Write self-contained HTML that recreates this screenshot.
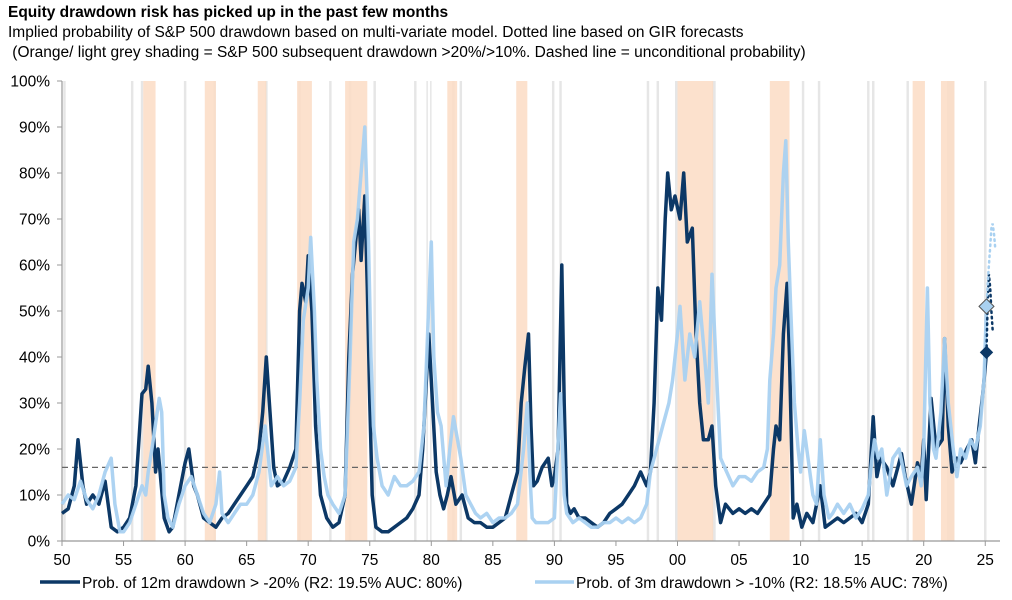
<!DOCTYPE html>
<html><head><meta charset="utf-8">
<style>
html,body{margin:0;padding:0;background:#fff;}
body{width:1012px;height:600px;overflow:hidden;font-family:"Liberation Sans",Arial,sans-serif;position:relative;}
.t{position:absolute;left:8px;white-space:nowrap;color:#000;}
</style></head><body>
<div class="t" style="top:4px;font-size:15.5px;font-weight:bold;">Equity drawdown risk has picked up in the past few months</div>
<div class="t" style="top:24px;font-size:15.5px;">Implied probability of S&amp;P 500 drawdown based on multi-variate model. Dotted line based on GIR forecasts</div>
<div class="t" style="top:44px;font-size:15.5px;">&nbsp;(Orange/ light grey shading = S&amp;P 500 subsequent drawdown &gt;20%/&gt;10%. Dashed line = unconditional probability)</div>
<svg id="chart" width="1012" height="600" style="position:absolute;left:0;top:0" xmlns="http://www.w3.org/2000/svg"></svg>
<script>
// Year offsets are years since 1900 (e.g. 74.6 = mid-1974)
const orangeBands = [[56.6,57.6],[61.6,62.5],[65.9,66.6],[69.1,70.3],[73.0,74.8],[81.3,82.1],[86.9,87.8],[100.0,102.9],[107.5,109.1],[119.1,120.1],[121.4,122.5]];
const greyBands = [[50.1,50.3],[55.6,55.8],[56.4,56.6],[59.9,60.1],[62.3,62.5],[66.5,66.7],[69.2,69.4],[71.7,71.9],[73.3,73.5],[75.3,75.5],[78.6,78.8],[79.6,79.7],[79.9,80.0],[81.7,81.9],[82.3,82.5],[89.8,90.0],[90.4,90.6],[97.5,97.7],[98.3,98.5],[99.8,100.0],[102.8,103.1],[110.1,110.3],[111.4,111.6],[115.4,115.6],[115.8,116.0],[118.6,118.8],[121.9,122.5],[124.9,125.1]];
const darkYears = [50,50.5,51,51.3,51.7,52,52.5,53,53.5,54,54.5,55,55.5,56,56.5,56.8,57,57.3,57.6,57.8,58.3,58.7,59,59.5,60,60.3,60.7,61,61.5,62,62.5,63,63.5,64,64.5,65,65.5,66,66.3,66.6,66.9,67.2,67.5,68,68.5,69,69.3,69.5,69.8,70,70.3,70.6,71,71.5,72,72.5,73,73.3,73.6,74.1,74.3,74.6,74.8,75,75.2,75.5,76,76.5,77,77.5,78,78.5,79,79.3,79.6,79.8,80.1,80.4,80.7,81,81.3,81.6,82,82.5,83,83.5,84,84.5,85,85.5,86,86.5,87,87.3,87.6,87.9,88.1,88.3,88.6,89,89.5,89.8,90,90.3,90.6,90.8,91,91.3,91.6,92,92.5,93,93.5,94,94.5,95,95.5,96,96.5,97,97.5,97.8,98.1,98.4,98.7,99,99.2,99.5,99.8,100.2,100.5,100.8,101.2,101.5,101.8,102.1,102.5,102.8,103.1,103.5,103.9,104.5,105,105.5,106,106.5,107,107.5,107.8,108,108.3,108.6,108.9,109.1,109.4,109.7,110.1,110.5,111,111.6,112,112.5,113,113.5,114,114.5,115,115.5,115.9,116.2,116.5,117,117.5,118.2,118.5,119,119.5,119.8,120,120.2,120.6,121,121.5,121.7,122,122.3,122.7,123,123.5,123.9,124.2,124.5,124.8,125.1];
const darkVals = [6,7,12,22,12,8,10,8,13,3,2,3,5,12,32,33,38,30,15,20,5,2,3,10,17,20,12,10,5,4,3,5,6,8,10,12,14,20,28,40,28,16,12,13,16,20,50,56,52,62,50,25,10,5,3,4,10,40,58,72,61,75,55,30,10,3,2,2,3,4,5,7,10,20,35,45,30,15,10,7,10,14,8,10,5,4,4,3,3,4,5,10,15,30,38,45,25,12,13,16,18,12,14,20,60,30,8,6,7,5,5,4,3,4,6,7,8,10,12,15,12,15,30,55,48,70,80,72,75,70,80,65,68,45,30,22,22,25,12,4,8,6,7,6,7,6,8,10,20,25,22,45,56,40,5,8,3,6,4,12,3,4,5,4,5,6,4,8,27,14,18,16,12,19,14,8,17,14,22,9,31,20,22,44,25,15,18,17,20,22,17,25,32,41];
const lightYears = [50,50.5,51,51.5,52,52.5,53,53.5,54,54.3,54.7,55,55.5,56,56.5,56.8,57,57.3,57.9,58.1,58.3,58.6,59,59.5,60,60.5,61,61.5,62,62.5,62.8,63,63.5,64,64.5,65,65.5,66,66.5,67,67.5,68,68.5,69,69.3,69.6,70,70.2,70.5,70.7,71,71.3,71.6,72,72.5,73,73.4,73.7,74,74.3,74.6,74.9,75.1,75.3,75.6,76,76.5,77,77.5,78,78.5,79,79.4,79.7,80,80.2,80.5,80.8,81.2,81.5,81.8,82,82.4,82.8,83.2,83.6,84,84.5,85,85.5,86,86.5,87,87.5,87.8,88,88.2,88.5,89,89.5,90,90.5,90.8,91,91.5,92,92.5,93,93.5,94,94.5,95,95.5,96,96.5,97,97.5,97.8,98.3,98.8,99.3,99.6,100,100.2,100.6,101,101.4,101.8,102.2,102.5,102.8,103.1,103.5,104,104.5,105,105.5,106,106.5,107,107.3,107.5,107.8,108,108.3,108.6,108.8,109,109.2,109.5,109.8,110,110.3,110.6,111,111.3,111.6,111.9,112.3,112.6,113,113.5,114,114.5,115,115.5,115.8,116,116.3,116.6,117,117.5,118,118.3,118.6,119,119.5,119.8,120,120.3,120.5,120.8,121,121.4,121.7,122,122.4,122.7,123,123.4,123.8,124.2,124.6,124.9,125.1];
const lightVals = [8,10,9,13,9,7,10,15,18,8,2,2,4,8,12,10,15,20,31,28,10,5,3,8,12,14,10,6,4,8,15,6,4,6,8,8,10,15,25,12,14,12,13,16,30,48,55,66,50,35,20,14,10,8,6,10,40,65,70,80,90,65,40,25,18,12,10,14,12,12,13,15,25,45,65,40,28,25,12,20,27,24,18,10,8,6,5,6,4,5,5,6,8,20,30,15,5,4,4,4,5,32,10,6,4,5,4,3,3,4,4,5,4,5,4,5,8,15,20,25,30,35,45,51,35,45,40,52,40,30,58,40,18,15,12,14,14,13,15,16,20,35,45,55,60,80,87,65,50,30,20,15,24,18,10,8,22,10,5,6,8,6,8,5,7,10,18,22,18,20,10,18,20,16,12,14,16,12,20,55,30,20,18,28,44,30,20,14,20,18,22,20,25,35,51];
const darkFcYears = [125.1,125.2,125.3,125.4,125.5,125.6];
const darkFcVals = [41,52,58,55,50,46];
const lightFcYears = [125.1,125.25,125.4,125.5,125.6,125.7,125.8];
const lightFcVals = [51,58,64,68,69,67,64];
const unconditional = 16;
const yTicks = [0,10,20,30,40,50,60,70,80,90,100];
const xTicks = [50,55,60,65,70,75,80,85,90,95,100,105,110,115,120,125];
const xTickLabels = ["50","55","60","65","70","75","80","85","90","95","00","05","10","15","20","25"];

const X0=62, XPY=12.31, Y0=541, YPP=4.6;
const xs = y => X0 + (y-50)*XPY;
const ys = v => Y0 - v*YPP;
const svg = document.getElementById('chart');
const NS = 'http://www.w3.org/2000/svg';
function mk(tag, attrs){const e=document.createElementNS(NS,tag);for(const k in attrs)e.setAttribute(k,attrs[k]);svg.appendChild(e);return e;}

greyBands.forEach(b=>{
  const r=mk('rect',{x:xs(b[0]),y:ys(100),width:Math.max(1.5,xs(b[1])-xs(b[0])),height:ys(0)-ys(100),fill:'#e6e6e6'});
  
  
});
orangeBands.forEach(b=>{
  const r=mk('rect',{x:xs(b[0]),y:ys(100),width:xs(b[1])-xs(b[0]),height:ys(0)-ys(100),fill:'#fbdcc4',opacity:0.85});
  
  
});
const ya=mk('line',{x1:X0,y1:ys(100),x2:X0,y2:ys(0),stroke:'#999','stroke-width':1.2});


yTicks.forEach(v=>{
  mk('line',{x1:X0-5,y1:ys(v),x2:X0,y2:ys(v),stroke:'#999'});
  const t=mk('text',{x:X0-12,y:ys(v)+5.5,'text-anchor':'end','font-size':15.5,fill:'#000','font-family':'Liberation Sans, Arial, sans-serif'});
  t.textContent=v+'%';
  
  
});
const xa=mk('line',{x1:X0,y1:ys(0),x2:1000,y2:ys(0),stroke:'#999','stroke-width':1.2});


xTicks.forEach((v,i)=>{
  mk('line',{x1:xs(v),y1:ys(0),x2:xs(v),y2:ys(0)+5,stroke:'#999'});
  const t=mk('text',{x:xs(v),y:ys(0)+24,'text-anchor':'middle','font-size':15.5,fill:'#000','font-family':'Liberation Sans, Arial, sans-serif'});
  t.textContent=xTickLabels[i];
  
  
});
const dl=mk('line',{x1:X0,y1:ys(unconditional),x2:xs(125.1),y2:ys(unconditional),stroke:'#666','stroke-width':1.2,'stroke-dasharray':'6,4'});


function pts(yrs,vals){return yrs.map((y,i)=>xs(y).toFixed(1)+','+ys(vals[i]).toFixed(1)).join(' ');}
const dk=mk('polyline',{points:pts(darkYears,darkVals),fill:'none',stroke:'#0c3866','stroke-width':3.5,'stroke-linejoin':'round'});


const lt=mk('polyline',{points:pts(lightYears,lightVals),fill:'none',stroke:'#a9d1f1','stroke-width':3.5,'stroke-linejoin':'round','opacity':0.95});


const dkf=mk('polyline',{points:pts(darkFcYears,darkFcVals),fill:'none',stroke:'#0c3866','stroke-width':2.5,'stroke-dasharray':'1.5,4','stroke-linecap':'round'});


const ltf=mk('polyline',{points:pts(lightFcYears,lightFcVals),fill:'none',stroke:'#a9d1f1','stroke-width':2.5,'stroke-dasharray':'1.5,4','stroke-linecap':'round'});


function diamond(y,v,s,fill,stroke,name){
  const cx=xs(y),cy=ys(v);
  const p=mk('polygon',{points:`${cx},${cy-s} ${cx+s},${cy} ${cx},${cy+s} ${cx-s},${cy}`,fill:fill,stroke:stroke,'stroke-width':1});
  
  
}
diamond(darkFcYears[0],darkFcVals[0],6,'#0c3866','#0c3866','marker-12m-latest');
diamond(lightFcYears[0],lightFcVals[0],7.5,'#a9d1f1','#555','marker-3m-latest');
const l1=mk('line',{x1:40,y1:582,x2:80,y2:582,stroke:'#0c3866','stroke-width':3.5});


const t1=mk('text',{x:82,y:588,'font-size':15.5,fill:'#000','font-family':'Liberation Sans, Arial, sans-serif'});
t1.textContent='Prob. of 12m drawdown > -20% (R2: 19.5% AUC: 80%)';


const l2=mk('line',{x1:535,y1:582,x2:574,y2:582,stroke:'#a9d1f1','stroke-width':3.5});


const t2=mk('text',{x:576,y:588,'font-size':15.5,fill:'#000','font-family':'Liberation Sans, Arial, sans-serif'});
t2.textContent='Prob. of 3m drawdown > -10% (R2: 18.5% AUC: 78%)';


</script>
</body></html>
